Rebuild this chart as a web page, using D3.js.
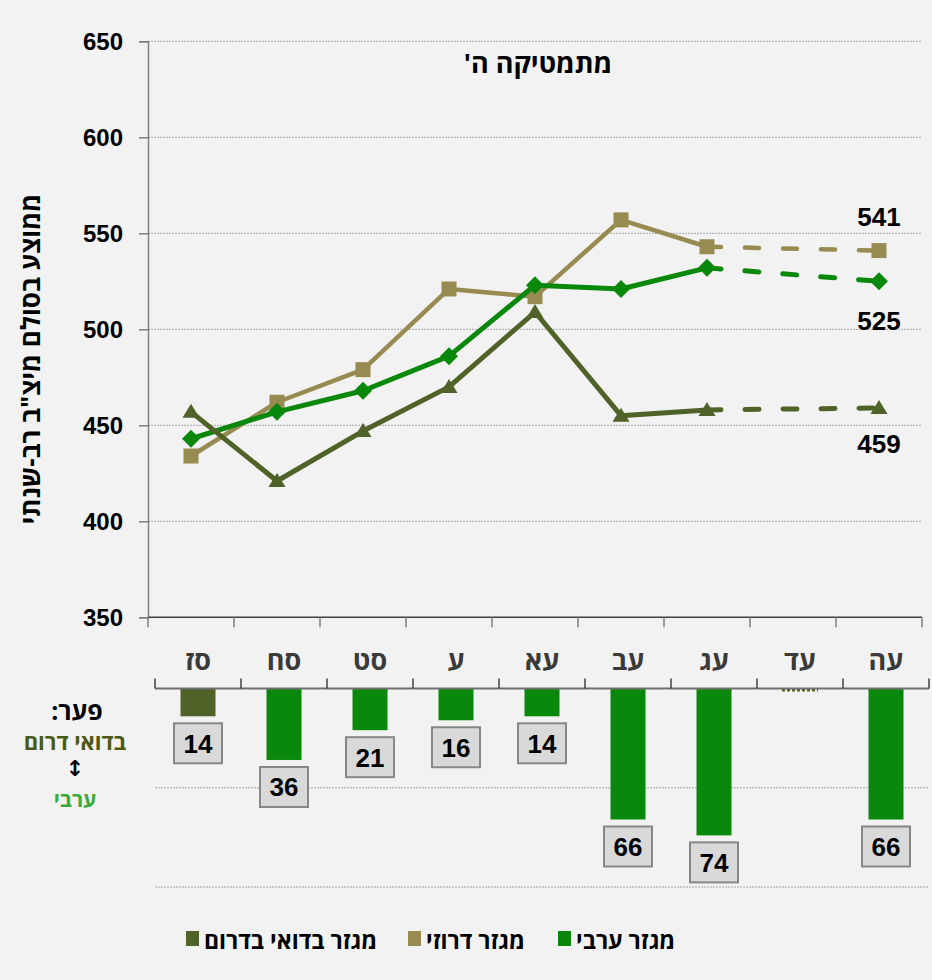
<!doctype html>
<html>
<head>
<meta charset="utf-8">
<script src="https://cdn.jsdelivr.net/npm/d3@7"></script>
<style>
  body { margin: 0; background: #f2f2f2; }
  text { font-family: "Liberation Sans", Arial, sans-serif; font-weight: bold; }
  .heb { direction: rtl; unicode-bidi: embed; font-family: "Open Sans", "Liberation Sans", sans-serif; }
</style>
</head>
<body>
<script>
// years (Hebrew calendar) and multi-year averages
var categories = ["סז", "סח", "סט", "ע", "עא", "עב", "עג", "עד", "עה"];
var arab    = [443, 457, 468, 486, 523, 521, 532, null, 525];
var druze   = [434, 462, 479, 521, 517, 557, 543, null, 541];
var bedouin = [457, 421, 447, 470, 509, 455, 458, null, 459];
// gap Bedouin south <-> Arab
var gaps = [14, 36, 21, 16, 14, 66, 74, null, 66];
var yTicks = [350, 400, 450, 500, 550, 600, 650];
var gapTicks = [50, 100];

var W = 932, H = 980;
var svg = d3.select("body").append("svg")
  .attr("width", W).attr("height", H)
  .style("background", "#f2f2f2");

// ---- top chart: line chart ----
var x = d3.scaleBand().domain(categories).range([148, 922]);
var y = d3.scaleLinear().domain([350, 650]).range([617.3, 41.3]);

// gridlines
svg.append("g").selectAll("line")
  .data(yTicks.filter(d => d > 350))
  .join("line")
  .attr("x1", 148).attr("x2", 922)
  .attr("y1", d => y(d)).attr("y2", d => y(d))
  .attr("stroke", "#a6a6a6").attr("stroke-width", 1)
  .attr("stroke-dasharray", "2,1");

var yAxis = svg.append("g")
  .attr("transform", "translate(148,0)")
  .call(d3.axisLeft(y).tickValues(yTicks).tickSize(9).tickPadding(16));
yAxis.select(".domain").attr("stroke", "#7f7f7f").attr("stroke-width", 1.5);
yAxis.selectAll(".tick line").attr("stroke", "#7f7f7f").attr("stroke-width", 1.5);
yAxis.selectAll(".tick text")
  .attr("font-size", 24).attr("fill", "#000").attr("dy", "0.36em")
  .style("font-family", "'Liberation Sans', Arial, sans-serif").style("font-weight", "bold");

// x axis of top chart (ticks between categories, no labels)
var xTop = svg.append("g");
xTop.append("line")
  .attr("x1", 148).attr("x2", 922).attr("y1", y(350)).attr("y2", y(350))
  .attr("stroke", "#3f3f3f").attr("stroke-width", 1.5);
xTop.selectAll("line.tk")
  .data(categories.concat(["end"]))
  .join("line").attr("class", "tk")
  .attr("x1", (d, i) => 148 + i * x.bandwidth())
  .attr("x2", (d, i) => 148 + i * x.bandwidth())
  .attr("y1", y(350)).attr("y2", y(350) + 10)
  .attr("stroke", "#7f7f7f").attr("stroke-width", 1.5);

// title
svg.append("text").attr("class", "heb")
  .attr("x", 538).attr("y", 73)
  .attr("text-anchor", "middle").attr("font-size", 27)
  .text("מתמטיקה ה'");

// y axis title
svg.append("text").attr("class", "heb")
  .attr("transform", "translate(40,359) rotate(-90)")
  .attr("text-anchor", "middle").attr("font-size", 26)
  .text('ממוצע בסולם מיצ"ב רב-שנתי');

var series = [
  {name: "מגזר דרוזי", values: druze, color: "#978b51", width: 4.5, marker: "square", labelDy: -34},
  {name: "מגזר ערבי", values: arab, color: "#0a880c", width: 5, marker: "diamond", labelDy: 39},
  {name: "מגזר בדואי בדרום", values: bedouin, color: "#4f6228", width: 5, marker: "triangle", labelDy: 36}
];

function markerPath(type) {
  if (type === "square") return "M-7.5,-7.5H7.5V7.5H-7.5Z";
  if (type === "diamond") return "M0,-9L9,0L0,9L-9,0Z";
  return "M0,-8L8.5,6L-8.5,6Z";
}

var line = d3.line()
  .x(d => x(d.c) + x.bandwidth() / 2)
  .y(d => y(d.v));

series.forEach(function(s) {
  var pts = categories.map((c, i) => ({c: c, v: s.values[i]}));
  var gapAt = pts.findIndex(p => p.v == null);
  var solid = pts.slice(0, gapAt);
  var after = pts.slice(gapAt + 1);
  var dashed = [solid[solid.length - 1], after[0]];
  var g = svg.append("g");

  g.append("path").datum(solid)
    .attr("d", line).attr("fill", "none")
    .attr("stroke", s.color).attr("stroke-width", s.width)
    .attr("stroke-linejoin", "round");
  g.append("path").datum(dashed)
    .attr("d", line).attr("fill", "none")
    .attr("stroke", s.color).attr("stroke-width", s.width)
    .attr("stroke-linecap", "round")
    .attr("stroke-dasharray", "14,24");

  g.selectAll("path.mk")
    .data(pts.filter(p => p.v != null))
    .join("path").attr("class", "mk")
    .attr("transform", d => `translate(${x(d.c) + x.bandwidth() / 2},${y(d.v)})`)
    .attr("d", markerPath(s.marker))
    .attr("fill", s.color);

  var last = after[after.length - 1];
  g.append("text")
    .attr("x", x(last.c) + x.bandwidth() / 2)
    .attr("y", y(last.v) + s.labelDy)
    .attr("dy", "0.36em")
    .attr("text-anchor", "middle").attr("font-size", 26)
    .text(last.v);
});

// ---- bottom chart: gap bars ----
var xb = d3.scaleBand().domain(categories).range([155, 929]);
var yb = d3.scaleLinear().domain([0, 100]).range([688.5, 887]);

svg.append("g").selectAll("line")
  .data(gapTicks)
  .join("line")
  .attr("x1", 155).attr("x2", 929)
  .attr("y1", d => yb(d)).attr("y2", d => yb(d))
  .attr("stroke", "#a6a6a6").attr("stroke-width", 1)
  .attr("stroke-dasharray", "2,1");

// category labels
svg.append("g").selectAll("text")
  .data(categories)
  .join("text").attr("class", "heb")
  .attr("x", d => xb(d) + xb.bandwidth() / 2)
  .attr("y", 670)
  .attr("text-anchor", "middle").attr("font-size", 27)
  .attr("fill", "#3a3a3a")
  .text(d => d);

var barW = 35;
var barData = categories.map((c, i) => ({
  c: c, v: gaps[i],
  bedouinHigher: bedouin[i] != null && bedouin[i] > arab[i]
}));

svg.append("g").selectAll("rect")
  .data(barData.filter(d => d.v != null))
  .join("rect")
  .attr("x", d => xb(d.c) + xb.bandwidth() / 2 - barW / 2)
  .attr("y", yb(0))
  .attr("width", barW)
  .attr("height", d => yb(d.v) - yb(0))
  .attr("fill", d => d.bedouinHigher ? "#4f6228" : "#0a880c");

// missing year: zero-height dashed mark
svg.append("g").selectAll("line")
  .data(barData.filter(d => d.v == null))
  .join("line")
  .attr("x1", d => xb(d.c) + xb.bandwidth() / 2 - 18)
  .attr("x2", d => xb(d.c) + xb.bandwidth() / 2 + 18)
  .attr("y1", yb(0) + 1.5).attr("y2", yb(0) + 1.5)
  .attr("stroke", "#4f6228").attr("stroke-width", 3)
  .attr("stroke-dasharray", "3,2");

// bottom axis line + ticks
var xBot = svg.append("g");
xBot.append("line")
  .attr("x1", 155).attr("x2", 929).attr("y1", yb(0)).attr("y2", yb(0))
  .attr("stroke", "#6f6f6f").attr("stroke-width", 2);
xBot.selectAll("line.tk")
  .data(categories.concat(["end"]))
  .join("line").attr("class", "tk")
  .attr("x1", (d, i) => 155 + i * xb.bandwidth())
  .attr("x2", (d, i) => 155 + i * xb.bandwidth())
  .attr("y1", yb(0) - 10).attr("y2", yb(0))
  .attr("stroke", "#3f3f3f").attr("stroke-width", 1.5);

// value boxes
var boxes = svg.append("g").selectAll("g")
  .data(barData.filter(d => d.v != null))
  .join("g")
  .attr("transform", d => `translate(${xb(d.c) + xb.bandwidth() / 2},${yb(d.v) + 7})`);
boxes.append("rect")
  .attr("x", -24).attr("y", 0).attr("width", 48).attr("height", 40)
  .attr("fill", "#d9d9d9").attr("stroke", "#878787").attr("stroke-width", 2);
boxes.append("text")
  .attr("x", 0).attr("y", 20).attr("dy", "0.36em")
  .attr("text-anchor", "middle").attr("font-size", 26)
  .text(d => d.v);

// gap annotation on the left
var note = svg.append("g");
note.append("text").attr("class", "heb")
  .attr("x", 77).attr("y", 720).attr("text-anchor", "middle")
  .attr("font-size", 25).text("פער:");
note.append("text").attr("class", "heb")
  .attr("x", 75).attr("y", 750).attr("text-anchor", "middle")
  .attr("font-size", 22).attr("fill", "#4a5a14").text("בדואי דרום");
note.append("text")
  .attr("x", 75).attr("y", 776).attr("text-anchor", "middle")
  .attr("font-size", 22).style("font-family", "'DejaVu Sans', sans-serif").text("↕");
note.append("text").attr("class", "heb")
  .attr("x", 75).attr("y", 807).attr("text-anchor", "middle")
  .attr("font-size", 21).attr("fill", "#3aaa3a").text("ערבי");

// legend
var legendItems = [
  {name: "מגזר בדואי בדרום", color: "#4f6228", x: 186},
  {name: "מגזר דרוזי", color: "#978b51", x: 408},
  {name: "מגזר ערבי", color: "#0a880c", x: 558}
];
var lg = svg.append("g").selectAll("g")
  .data(legendItems)
  .join("g")
  .attr("transform", d => `translate(${d.x},931)`);
lg.append("rect")
  .attr("width", 13).attr("height", 15)
  .attr("fill", d => d.color);
lg.append("text").attr("class", "heb")
  .attr("x", 18).attr("y", 18)
  .attr("text-anchor", "end").attr("font-size", 23)
  .text(d => d.name);
</script>
</body>
</html>
